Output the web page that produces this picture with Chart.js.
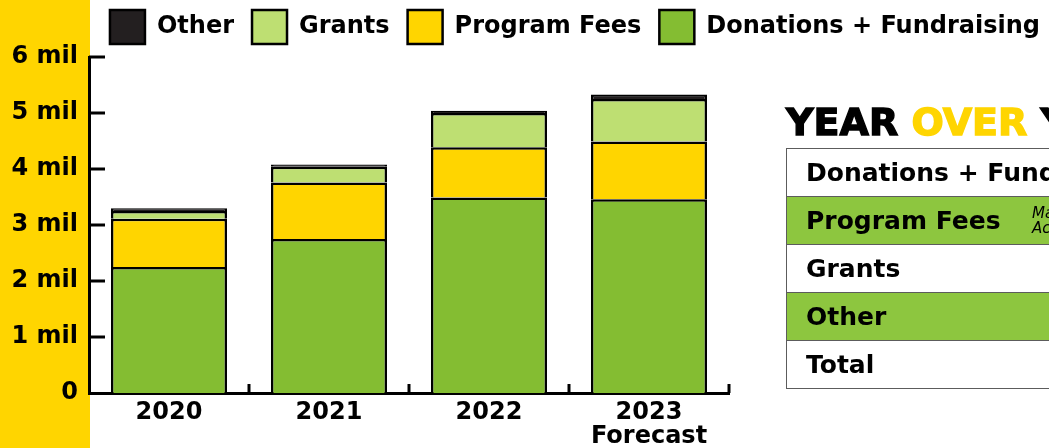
<!DOCTYPE html>
<html><head><meta charset="utf-8">
<script src="https://cdn.jsdelivr.net/npm/chart.js@4"></script>
<style>
html,body{margin:0;padding:0;width:1049px;height:448px;overflow:hidden;background:#fff;}
#wrap{position:relative;width:1049px;height:448px;overflow:hidden;}
#c{position:absolute;left:0;top:0;}
#side{position:absolute;left:786px;top:0;width:420px;font-family:"DejaVu Sans",sans-serif;color:#000;}
#yoy{position:absolute;top:97px;left:0;font-weight:700;font-size:38px;line-height:50px;white-space:nowrap;-webkit-text-stroke-width:1.4px;}
#yoy span{color:#ffd500}
table{position:absolute;top:148px;left:0;width:420px;border-collapse:collapse;}
td{height:47px;border:1.5px solid #5c5c5c;padding:0 0 0 19px;font-weight:700;font-size:25px;white-space:nowrap;position:relative}
tr.g td{background:#8dc63f}
.note{position:absolute;left:245px;top:9px;font-style:italic;font-weight:400;font-size:15px;line-height:15px}
</style></head>
<body>
<div id="wrap">
<canvas id="c" width="1049" height="448"></canvas>
<div id="side">
  <div id="yoy">YEAR <span>OVER</span> YEAR</div>
  <table>
    <tr><td>Donations + Fundraising</td></tr>
    <tr class="g"><td>Program Fees<div class="note">Mainly<br>Activities</div></td></tr>
    <tr><td>Grants</td></tr>
    <tr class="g"><td>Other</td></tr>
    <tr><td>Total</td></tr>
  </table>
</div>
</div>
<script>
const categories = ['2020', '2021', '2022', ['2023', 'Forecast']];
const donations = [2.25, 2.75, 3.49, 3.46];
const programFees = [0.86, 1.01, 0.90, 1.03];
const grants = [0.14, 0.28, 0.61, 0.76];
const other = [0.05, 0.04, 0.04, 0.08];
const yTickValues = [0, 1, 2, 3, 4, 5, 6];

const FONT = '"DejaVu Sans", sans-serif';

const deco = {
  id: 'deco',
  beforeInit(chart) {
    const fit = chart.legend.fit;
    chart.legend.fit = function () { fit.bind(chart.legend)(); this.height = 65; };
  },
  beforeDraw(chart) {
    const {ctx, chartArea: a} = chart;
    ctx.save();
    ctx.fillStyle = '#ffd500';
    ctx.fillRect(0, 0, a.left + 1, chart.height);
    ctx.restore();
  },
  afterDraw(chart) {
    const {ctx, chartArea: a, scales: {x, y}} = chart;
    ctx.save();
    ctx.strokeStyle = '#000';
    ctx.lineWidth = 3;
    yTickValues.forEach(v => {
      if (v === 0) return;
      const py = y.getPixelForValue(v);
      ctx.beginPath(); ctx.moveTo(a.left, py); ctx.lineTo(a.left + 16, py); ctx.stroke();
    });
    for (let i = 1; i <= categories.length; i++) {
      const px = x.getPixelForValue(i - 0.5);
      ctx.beginPath(); ctx.moveTo(px, a.bottom); ctx.lineTo(px, a.bottom - 9); ctx.stroke();
    }
    ctx.restore();
  }
};

const common = {borderColor: '#000', borderWidth: 2.5, categoryPercentage: 1, barPercentage: 0.725};

new Chart(document.getElementById('c'), {
  type: 'bar',
  data: {
    labels: categories,
    datasets: [
      {label: 'Donations + Fundraising', data: donations, backgroundColor: '#84bd32', ...common},
      {label: 'Program Fees', data: programFees, backgroundColor: '#ffd500', ...common},
      {label: 'Grants', data: grants, backgroundColor: '#bedf72', ...common},
      {label: 'Other', data: other, backgroundColor: '#231f20', ...common}
    ]
  },
  options: {
    responsive: false,
    animation: false,
    layout: {padding: {top: -8, left: 0, right: -9, bottom: 0}},
    plugins: {
      tooltip: {enabled: false},
      legend: {
        reverse: true,
        align: 'end',
        labels: {
          boxWidth: 35, boxHeight: 34, padding: 18, color: '#000',
          font: {family: FONT, size: 24, weight: '700'}
        }
      }
    },
    scales: {
      x: {
        stacked: true,
        grid: {display: false, drawTicks: false},
        border: {display: true, color: '#000', width: 3},
        ticks: {color: '#000', padding: 8, font: {family: FONT, size: 24, weight: '700', lineHeight: 1.0}},
        afterFit(s) { s.height = 55; }
      },
      y: {
        stacked: true,
        min: 0, max: 6,
        grid: {display: false, drawTicks: false},
        border: {display: true, color: '#000', width: 3},
        afterBuildTicks(s) { s.ticks = yTickValues.map(v => ({value: v})); },
        ticks: {
          color: '#000', padding: 11,
          font: {family: FONT, size: 24, weight: '700'},
          callback: v => v === 0 ? '0' : v + ' mil'
        },
        afterFit(s) { s.width = 89; }
      },
      r: {
        type: 'linear', position: 'right', display: true,
        grid: {display: false, drawTicks: false},
        border: {display: false},
        ticks: {display: false},
        afterFit(s) { s.width = 329; }
      }
    }
  },
  plugins: [deco]
});
</script>
</body></html>
